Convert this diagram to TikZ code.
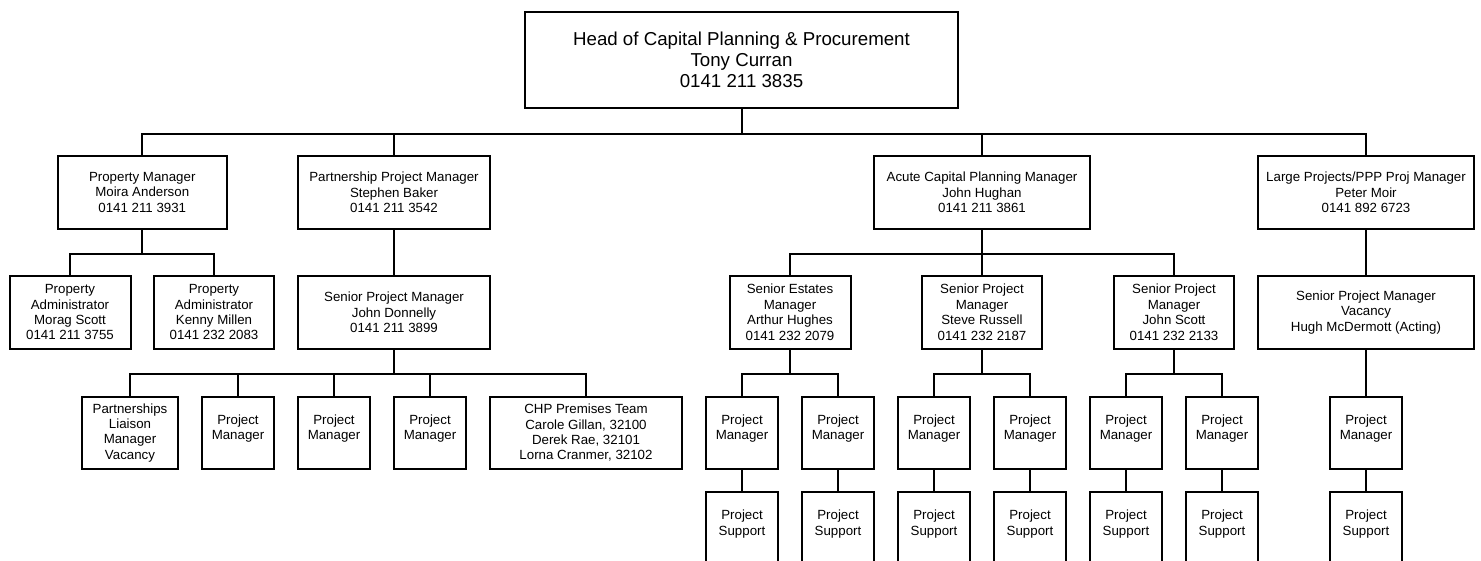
\documentclass[tikz,border=0pt]{standalone}
\usepackage{fontspec}
\setmainfont{Liberation Sans}
\begin{document}
\begin{tikzpicture}[x=1pt,y=-1pt,
  box/.style={draw, line width=2pt, inner sep=0pt, align=center,
    font=\fontsize{13.3}{15.4}\selectfont, minimum height=72.5pt},
  headbox/.style={draw, line width=2pt, inner sep=0pt, align=center,
    font=\fontsize{18.7}{21}\selectfont, minimum width=433pt, minimum height=96pt},
  smallbox/.style={box, minimum width=72.5pt},
  tallbox/.style={box, minimum width=72.5pt, minimum height=73pt},
  link/.style={line width=2pt, line join=miter}]
\path[use as bounding box] (0,0) rectangle (1481,560);
\clip (0,0) rectangle (1481,560);

% head
\node[headbox] (head) at (741.5,60) {Head of Capital Planning \& Procurement\\Tony Curran\\0141 211 3835};

% level 1
\node[box, minimum width=168.5pt] (pm)  at (142.25,192.25) {Property Manager\\Moira Anderson\\0141 211 3931};
\node[box, minimum width=192pt]   (ppm) at (394,192.25) {Partnership Project Manager\\Stephen Baker\\0141 211 3542};
\node[box, minimum width=216pt]   (acm) at (982,192.25) {Acute Capital Planning Manager\\John Hughan\\0141 211 3861};
\node[box, minimum width=216pt]   (lpm) at (1366,192.25) {Large Projects/PPP Proj Manager\\Peter Moir\\0141 892 6723};

% level 2
\node[box, minimum width=121pt] (pa1) at (70,312.25) {Property\\Administrator\\Morag Scott\\0141 211 3755};
\node[box, minimum width=120pt] (pa2) at (214,312.25) {Property\\Administrator\\Kenny Millen\\0141 232 2083};
\node[box, minimum width=192pt] (spm) at (394,312.25) {Senior Project Manager\\John Donnelly\\0141 211 3899};
\node[box, minimum width=121pt] (sem) at (790,312.25) {Senior Estates\\Manager\\Arthur Hughes\\0141 232 2079};
\node[box, minimum width=120pt] (srp) at (982,312.25) {Senior Project\\Manager\\Steve Russell\\0141 232 2187};
\node[box, minimum width=120pt] (jsp) at (1174,312.25) {Senior Project\\Manager\\John Scott\\0141 232 2133};
\node[box, minimum width=216pt] (vac) at (1366,312.25) {Senior Project Manager\\Vacancy\\Hugh McDermott (Acting)};

% level 3 (partnership)
\node[box, minimum width=96pt] (pl) at (130,432.75) {Partnerships\\Liaison\\Manager\\Vacancy};
\node[smallbox] (q1) at (238,432.75) {Project\\Manager\\[-4pt]~};
\node[smallbox] (q2) at (334,432.75) {Project\\Manager\\[-4pt]~};
\node[smallbox] (q3) at (430,432.75) {Project\\Manager\\[-4pt]~};
\node[box, minimum width=192pt] (chp) at (586,432.75) {CHP Premises Team\\Carole Gillan, 32100\\Derek Rae, 32101\\Lorna Cranmer, 32102};

% level 3 (acute / large)
\node[smallbox] (a1) at (742,432.75) {Project\\Manager\\[-4pt]~};
\node[smallbox] (a2) at (838,432.75) {Project\\Manager\\[-4pt]~};
\node[smallbox] (b1) at (934,432.75) {Project\\Manager\\[-4pt]~};
\node[smallbox] (b2) at (1030,432.75) {Project\\Manager\\[-4pt]~};
\node[smallbox] (c1) at (1126,432.75) {Project\\Manager\\[-4pt]~};
\node[smallbox] (c2) at (1222,432.75) {Project\\Manager\\[-4pt]~};
\node[smallbox] (d1) at (1366,432.75) {Project\\Manager\\[-4pt]~};

% level 4
\node[tallbox] (sa1) at (742,528.5) {Project\\Support\\[-4pt]~};
\node[tallbox] (sa2) at (838,528.5) {Project\\Support\\[-4pt]~};
\node[tallbox] (sb1) at (934,528.5) {Project\\Support\\[-4pt]~};
\node[tallbox] (sb2) at (1030,528.5) {Project\\Support\\[-4pt]~};
\node[tallbox] (sc1) at (1126,528.5) {Project\\Support\\[-4pt]~};
\node[tallbox] (sc2) at (1222,528.5) {Project\\Support\\[-4pt]~};
\node[tallbox] (sd1) at (1366,528.5) {Project\\Support\\[-4pt]~};

% connectors
\foreach \c in {pm,ppm,acm,lpm}
  \draw[link] (head.south) -- ++(0,24.5) -| (\c.north);
\foreach \c in {pa1,pa2}
  \draw[link] (pm.south) -- ++(0,24.5) -| (\c.north);
\draw[link] (ppm.south) -- (spm.north);
\foreach \c in {sem,srp,jsp}
  \draw[link] (acm.south) -- ++(0,24.5) -| (\c.north);
\draw[link] (lpm.south) -- (vac.north);
\foreach \c in {pl,q1,q2,q3,chp}
  \draw[link] (spm.south) -- ++(0,24.25) -| (\c.north);
\foreach \c in {a1,a2}
  \draw[link] (sem.south) -- ++(0,24.25) -| (\c.north);
\foreach \c in {b1,b2}
  \draw[link] (srp.south) -- ++(0,24.25) -| (\c.north);
\foreach \c in {c1,c2}
  \draw[link] (jsp.south) -- ++(0,24.25) -| (\c.north);
\draw[link] (vac.south) -- (d1.north);
\foreach \p/\s in {a1/sa1,a2/sa2,b1/sb1,b2/sb2,c1/sc1,c2/sc2,d1/sd1}
  \draw[link] (\p.south) -- (\s.north);
\end{tikzpicture}
\end{document}
